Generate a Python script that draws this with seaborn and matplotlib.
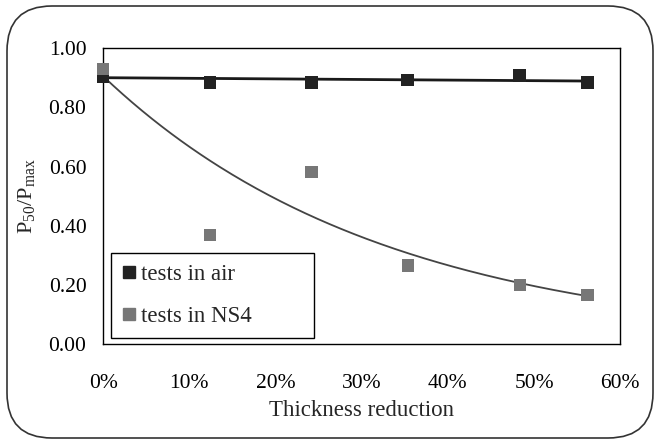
import numpy as np
import pandas as pd
import matplotlib
matplotlib.use('Agg')
import matplotlib.pyplot as plt
from matplotlib.patches import FancyBboxPatch
from matplotlib.transforms import IdentityTransform
from matplotlib.ticker import FuncFormatter, MultipleLocator
import seaborn as sns

# thickness reduction (fraction) and P50/Pmax
air_x = [0.0, 0.124, 0.242, 0.353, 0.483, 0.562]
air_y = [0.903, 0.884, 0.884, 0.892, 0.907, 0.884]
ns4_x = [0.0, 0.124, 0.242, 0.354, 0.484, 0.562]
ns4_y = [0.930, 0.369, 0.581, 0.266, 0.200, 0.167]

# trendlines
air_trend = (0.900, -0.02)      # linear: intercept, slope
ns4_trend = (0.905, 3.05)       # exponential: a * exp(-b x)

x_ticks = [0.0, 0.1, 0.2, 0.3, 0.4, 0.5, 0.6]

sns.set_style('white')
plt.rcParams['font.family'] = 'serif'
plt.rcParams['font.serif'] = ['Liberation Serif', 'DejaVu Serif']
plt.rcParams['mathtext.fontset'] = 'custom'
plt.rcParams['mathtext.rm'] = 'Liberation Serif'
plt.rcParams['mathtext.it'] = 'Liberation Serif:italic'

fig = plt.figure(figsize=(6.57, 4.41), dpi=100)
ax = fig.add_axes([0.157, 0.219, 0.787, 0.672])

xs = np.linspace(0, air_x[-1], 200)
air_fit = pd.DataFrame({'x': xs, 'y': air_trend[0] + air_trend[1] * xs})
ns4_fit = pd.DataFrame({'x': xs, 'y': ns4_trend[0] * np.exp(-ns4_trend[1] * xs)})

sns.lineplot(data=air_fit, x='x', y='y', ax=ax, color='#1a1a1a', lw=2.0)
sns.lineplot(data=ns4_fit, x='x', y='y', ax=ax, color='#444444', lw=1.3)

df = pd.DataFrame({'x': air_x + ns4_x,
                   'y': air_y + ns4_y,
                   'series': ['tests in air'] * len(air_x) + ['tests in NS4'] * len(ns4_x)})
sns.scatterplot(data=df, x='x', y='y', hue='series', ax=ax, marker='s', s=80,
                palette={'tests in air': '#222222', 'tests in NS4': '#777777'},
                edgecolor=None, linewidth=0, legend=False, zorder=5, clip_on=False)

ax.set_xlim(0, 0.6)
ax.set_ylim(0, 1.0)
ax.set_xticks(x_ticks)
ax.xaxis.set_major_formatter(FuncFormatter(lambda v, p: '%d%%' % round(v * 100)))
ax.yaxis.set_major_locator(MultipleLocator(0.2))
ax.yaxis.set_major_formatter(FuncFormatter(lambda v, p: '%.2f' % v))
ax.tick_params(axis='x', direction='in', length=5, width=1, pad=21, labelsize=15.5, colors='black')
ax.tick_params(axis='y', direction='in', length=5, width=1, pad=12, labelsize=15.5, colors='black')
for sp in ax.spines.values():
    sp.set_color('black')
    sp.set_linewidth(1.0)

ax.set_xlabel('Thickness reduction', fontsize=16.5, labelpad=5)
ax.set_ylabel(r'$\mathrm{P}_{50}/\mathrm{P}_{\max}$', fontsize=16, labelpad=8)

handles = [plt.Line2D([], [], ls='', marker='s', ms=8.5, color='#222222'),
           plt.Line2D([], [], ls='', marker='s', ms=8.5, color='#777777')]
leg = fig.legend(handles, ['tests in air', 'tests in NS4'], loc='lower left',
                 bbox_to_anchor=(0.169, 0.234, 0.309, 0.186), mode='expand',
                 borderaxespad=0, fontsize=16.5, frameon=True, fancybox=False,
                 labelspacing=0.95, handlelength=0.7, handletextpad=0.15,
                 borderpad=0.45)
leg.get_frame().set_edgecolor('black')
leg.get_frame().set_linewidth(1.0)
leg.get_frame().set_alpha(1)

border = FancyBboxPatch((7, 3), 646, 432, boxstyle='round,pad=0,rounding_size=45',
                        transform=IdentityTransform(), fill=False,
                        edgecolor='#333333', linewidth=1.2)
fig.patches.append(border)

fig.savefig('out.png', dpi=100)
